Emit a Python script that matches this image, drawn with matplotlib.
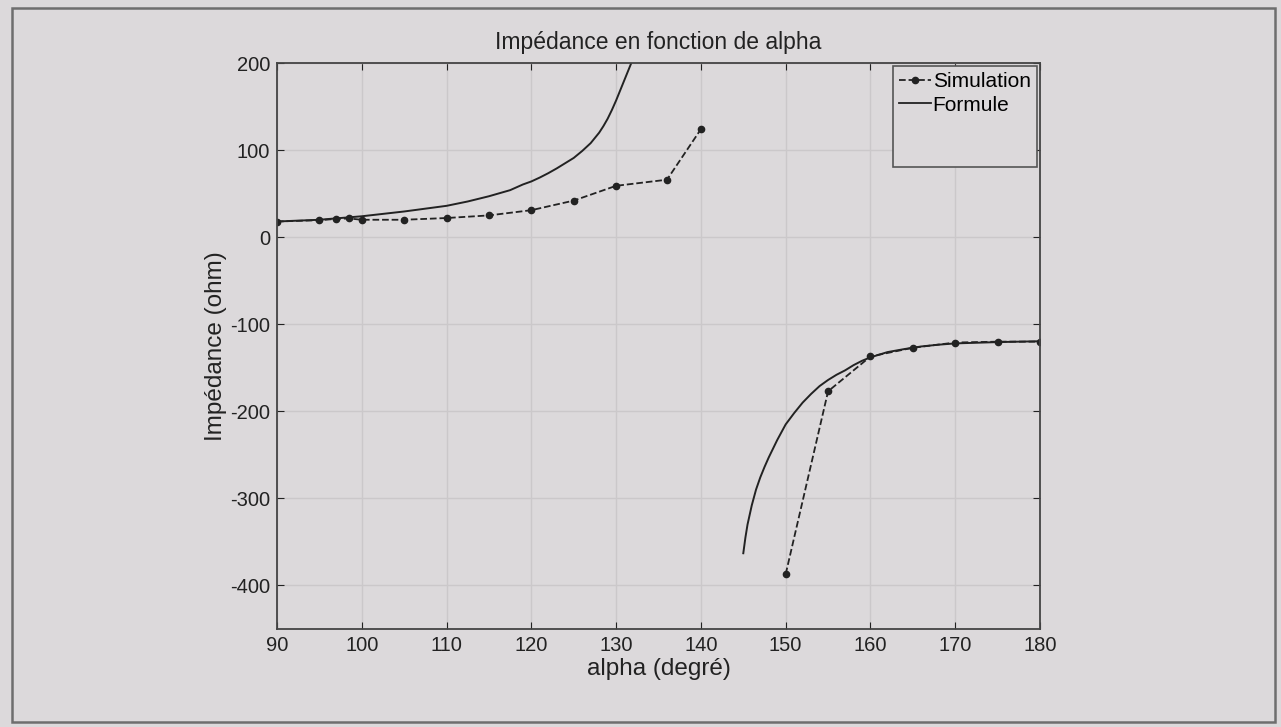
import matplotlib
matplotlib.use("Agg")
import matplotlib.pyplot as plt
from matplotlib.lines import Line2D
from matplotlib.patches import Rectangle

plt.rcParams["font.family"] = ["Liberation Sans", "DejaVu Sans"]
plt.rcParams["axes.unicode_minus"] = False

# Simulation (points mesurés)
sim_alpha = [90, 95, 97, 98.5, 100, 105, 110, 115, 120, 125, 130, 136, 140,
             150, 155, 160, 165, 170, 175, 180]
sim_z = [18, 19.5, 21, 21.5, 20, 20, 22, 25, 31, 42, 59, 66, 124,
         -387, -177, -137, -127, -121, -120, -120]
sim_split = 13  # cassure entre 140 et 150

# Formule, branche haute
form_hi_alpha = [90, 95, 100, 105, 110, 112.5, 115, 117.5, 119, 120, 121, 122,
                 123, 124, 125, 126, 127, 127.5, 128, 128.5, 129, 129.5, 130,
                 130.5, 131, 131.5, 132]
form_hi_z = [18, 20, 24, 29.5, 36, 41, 47, 54, 60.5, 64, 68.5, 73.5,
             79, 85, 91, 99, 108, 114, 120, 127.5, 136, 146, 157,
             169, 181, 193, 205]
# Formule, branche basse
form_lo_alpha = [145, 145.25, 145.5, 146, 146.5, 147, 147.5, 148, 149, 150,
                 151, 152, 153, 154, 155, 156, 157, 158, 159, 160, 162, 164,
                 166, 168, 170, 175, 180]
form_lo_z = [-363, -345, -330, -308, -290, -276, -264, -253, -233, -215,
             -202, -190, -180, -171, -164, -158, -153, -147, -142, -138, -132,
             -128.5, -125.5, -123.5, -122, -120.5, -119.5]

BG = "#dcd9db"
INK = "#222222"
GRID = "#cbc8ca"

fig = plt.figure(figsize=(12.81, 7.27), dpi=100, facecolor=BG)
ax = fig.add_axes([0.2162, 0.1348, 0.8119 - 0.2162, 0.9133 - 0.1348])
ax.set_facecolor(BG)

# cadre de la figure
fig.patches.append(Rectangle((0.009, 0.007), 0.986, 0.982, transform=fig.transFigure,
                             fill=False, ec="#6e6e6e", lw=1.8))

ax.plot(sim_alpha[:sim_split], sim_z[:sim_split], "--", color=INK, lw=1.3,
        marker=".", ms=9)
ax.plot(sim_alpha[sim_split:], sim_z[sim_split:], "--", color=INK, lw=1.3,
        marker=".", ms=9)
ax.plot(form_hi_alpha, form_hi_z, "-", color=INK, lw=1.4)
ax.plot(form_lo_alpha, form_lo_z, "-", color=INK, lw=1.4)

ax.set_xlim(90, 180)
ax.set_ylim(-450, 200)
ax.set_xticks(range(90, 181, 10))
ax.set_yticks(range(-400, 201, 100))
ax.grid(True, color=GRID, lw=1.0)
ax.tick_params(direction="in", top=True, right=True, labelsize=14.5,
               colors=INK, length=5, pad=5)
for s in ax.spines.values():
    s.set_color("#444444")
    s.set_linewidth(1.3)

ax.set_title("Impédance en fonction de alpha", fontsize=16.5, color=INK, pad=10)
ax.set_xlabel("alpha (degré)", fontsize=17.5, color=INK, labelpad=2)
ax.set_ylabel("Impédance (ohm)", fontsize=17.5, color=INK, labelpad=2)

handles = [Line2D([], [], ls="--", marker=".", ms=9, color=INK, lw=1.3),
           Line2D([], [], ls="-", color=INK, lw=1.3),
           Line2D([], [], ls="none"),
           Line2D([], [], ls="none")]
leg = ax.legend(handles, ["Simulation", "Formule", " ", " "], loc="upper right",
                fontsize=15, handlelength=1.5, handletextpad=0.1,
                borderaxespad=0.15, borderpad=0.3, labelspacing=0.2,
                fancybox=False, facecolor=BG, edgecolor="#555555", framealpha=1)
leg.get_frame().set_linewidth(1.2)

fig.savefig("out.png", dpi=100, facecolor=BG)
